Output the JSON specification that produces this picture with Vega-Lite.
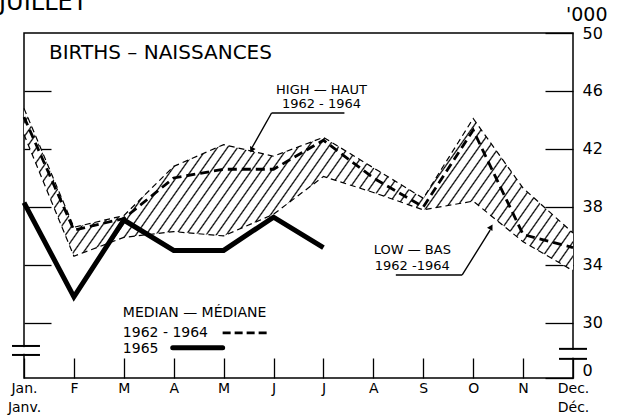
{
  "$schema": "https://vega.github.io/schema/vega-lite/v6.json",
  "width": 549,
  "height": 345,
  "autosize": {"type": "none"},
  "padding": {"left": 24, "top": 33, "right": 58, "bottom": 42},
  "background": "white",
  "config": {
    "view": {"stroke": "#000", "strokeWidth": 1.5},
    "font": "DejaVu Sans"
  },
  "datasets": {
    "band": [
      {"m": 0, "high": 44.8, "median": 44.2, "low": 43.0},
      {"m": 1, "high": 36.6, "median": 36.4, "low": 34.6},
      {"m": 2, "high": 37.4, "median": 37.2, "low": 35.9},
      {"m": 3, "high": 40.8, "median": 40.0, "low": 36.3},
      {"m": 4, "high": 42.3, "median": 40.6, "low": 36.0},
      {"m": 5, "high": 41.5, "median": 40.6, "low": 37.5},
      {"m": 6, "high": 42.8, "median": 42.6, "low": 40.1},
      {"m": 7, "high": 40.7, "median": 40.0, "low": 39.0},
      {"m": 8, "high": 38.6, "median": 38.0, "low": 37.8},
      {"m": 9, "high": 44.1, "median": 43.3, "low": 38.4},
      {"m": 10, "high": 39.3, "median": 36.1, "low": 35.6},
      {"m": 11, "high": 36.2, "median": 35.2, "low": 33.6}
    ],
    "y1965": [
      {"m": 0, "v": 38.3},
      {"m": 1, "v": 31.8},
      {"m": 2, "v": 37.1},
      {"m": 3, "v": 35.0},
      {"m": 4, "v": 35.0},
      {"m": 5, "v": 37.3},
      {"m": 6, "v": 35.2}
    ],
    "thinRules": [
      {"m": 4.96, "m2": 6.42, "v": 44.48, "v2": 44.48},
      {"m": 4.96, "m2": 4.57, "v": 44.48, "v2": 42.1},
      {"m": 7.45, "m2": 8.78, "v": 33.31, "v2": 33.31},
      {"m": 8.78, "m2": 9.34, "v": 33.31, "v2": 36.4}
    ],
    "breakRules": [
      {"m": -0.24, "m2": 0.32, "v": 28.41, "v2": 28.41},
      {"m": -0.24, "m2": 0.32, "v": 27.79, "v2": 27.79},
      {"m": 10.72, "m2": 11.28, "v": 28.21, "v2": 28.21},
      {"m": 10.72, "m2": 11.28, "v": 27.52, "v2": 27.52}
    ],
    "breakGaps": [
      {"m": 0, "m2": 0, "v": 28.33, "v2": 27.87},
      {"m": 11, "m2": 11, "v": 28.13, "v2": 27.6}
    ],
    "sampleDash": [{"m": 3.98, "m2": 4.92, "v": 29.31, "v2": 29.31}],
    "sampleSolid": [{"m": 2.98, "m2": 3.98, "v": 28.28, "v2": 28.28}],
    "textLeft": [
      {"m": 1.98, "v": 30.69, "t": "MEDIAN — MÉDIANE"},
      {"m": 1.98, "v": 29.31, "t": "1962 - 1964"},
      {"m": 1.98, "v": 28.21, "t": "1965"}
    ],
    "textCenter": [
      {"m": 5.96, "v": 46.1, "t": "HIGH — HAUT"},
      {"m": 5.96, "v": 45.1, "t": "1962 - 1964"},
      {"m": 7.78, "v": 35.03, "t": "LOW — BAS"},
      {"m": 7.78, "v": 33.93, "t": "1962 -1964"}
    ],
    "title": [{"m": 0.5, "v": 48.62, "t": "BIRTHS – NAISSANCES"}],
    "unit": [{"m": 10.86, "v": 51.24, "t": "'000"}],
    "cropped": [{"m": -0.5, "v": 51.59, "t": "JUILLET"}],
    "arrowHigh": [{"m": 4.56, "v": 41.93}],
    "arrowLow": [{"m": 9.36, "v": 36.62}]
  },
  "encoding": {
    "x": {
      "field": "m",
      "type": "quantitative",
      "title": null,
      "scale": {"domain": [0, 11], "nice": false, "zero": false},
      "axis": {
        "orient": "bottom",
        "values": [0, 1, 2, 3, 4, 5, 6, 7, 8, 9, 10, 11],
        "domain": false,
        "grid": false,
        "tickSize": -20,
        "tickColor": "#000",
        "tickWidth": 1.3,
        "labelPadding": 23,
        "labelFont": "DejaVu Sans",
        "labelFontSize": 14,
        "labelColor": "#000",
        "labelBaseline": "top",
        "labelLineHeight": 19,
        "labelOverlap": false,
        "labelFlush": false,
        "labelExpr": "datum.value == 0 ? ['Jan.', 'Janv.'] : datum.value == 11 ? ['Dec.', 'Déc.'] : ['Jan.','F','M','A','M','J','J','A','S','O','N','Dec.'][datum.value]"
      }
    }
  },
  "resolve": {"axis": {"y": "independent"}},
  "layer": [
    {
      "data": {"name": "band"},
      "mark": {
        "type": "area",
        "strokeWidth": 0,
        "fill": {
          "gradient": "linear",
          "x1": 0, "y1": 0, "x2": 1.754, "y2": 0.365,
          "stops": [
            {"offset": 0, "color": "#000"}, {"offset": 0.0015, "color": "#fff"}, {"offset": 0.0085, "color": "#fff"},
            {"offset": 0.01, "color": "#000"}, {"offset": 0.0115, "color": "#fff"}, {"offset": 0.0185, "color": "#fff"},
            {"offset": 0.02, "color": "#000"}, {"offset": 0.0215, "color": "#fff"}, {"offset": 0.0285, "color": "#fff"},
            {"offset": 0.03, "color": "#000"}, {"offset": 0.0315, "color": "#fff"}, {"offset": 0.0385, "color": "#fff"},
            {"offset": 0.04, "color": "#000"}, {"offset": 0.0415, "color": "#fff"}, {"offset": 0.0485, "color": "#fff"},
            {"offset": 0.05, "color": "#000"}, {"offset": 0.0515, "color": "#fff"}, {"offset": 0.0585, "color": "#fff"},
            {"offset": 0.06, "color": "#000"}, {"offset": 0.0615, "color": "#fff"}, {"offset": 0.0685, "color": "#fff"},
            {"offset": 0.07, "color": "#000"}, {"offset": 0.0715, "color": "#fff"}, {"offset": 0.0785, "color": "#fff"},
            {"offset": 0.08, "color": "#000"}, {"offset": 0.0815, "color": "#fff"}, {"offset": 0.0885, "color": "#fff"},
            {"offset": 0.09, "color": "#000"}, {"offset": 0.0915, "color": "#fff"}, {"offset": 0.0985, "color": "#fff"},
            {"offset": 0.10, "color": "#000"}, {"offset": 0.1015, "color": "#fff"}, {"offset": 0.1085, "color": "#fff"},
            {"offset": 0.11, "color": "#000"}, {"offset": 0.1115, "color": "#fff"}, {"offset": 0.1185, "color": "#fff"},
            {"offset": 0.12, "color": "#000"}, {"offset": 0.1215, "color": "#fff"}, {"offset": 0.1285, "color": "#fff"},
            {"offset": 0.13, "color": "#000"}, {"offset": 0.1315, "color": "#fff"}, {"offset": 0.1385, "color": "#fff"},
            {"offset": 0.14, "color": "#000"}, {"offset": 0.1415, "color": "#fff"}, {"offset": 0.1485, "color": "#fff"},
            {"offset": 0.15, "color": "#000"}, {"offset": 0.1515, "color": "#fff"}, {"offset": 0.1585, "color": "#fff"},
            {"offset": 0.16, "color": "#000"}, {"offset": 0.1615, "color": "#fff"}, {"offset": 0.1685, "color": "#fff"},
            {"offset": 0.17, "color": "#000"}, {"offset": 0.1715, "color": "#fff"}, {"offset": 0.1785, "color": "#fff"},
            {"offset": 0.18, "color": "#000"}, {"offset": 0.1815, "color": "#fff"}, {"offset": 0.1885, "color": "#fff"},
            {"offset": 0.19, "color": "#000"}, {"offset": 0.1915, "color": "#fff"}, {"offset": 0.1985, "color": "#fff"},
            {"offset": 0.20, "color": "#000"}, {"offset": 0.2015, "color": "#fff"}, {"offset": 0.2085, "color": "#fff"},
            {"offset": 0.21, "color": "#000"}, {"offset": 0.2115, "color": "#fff"}, {"offset": 0.2185, "color": "#fff"},
            {"offset": 0.22, "color": "#000"}, {"offset": 0.2215, "color": "#fff"}, {"offset": 0.2285, "color": "#fff"},
            {"offset": 0.23, "color": "#000"}, {"offset": 0.2315, "color": "#fff"}, {"offset": 0.2385, "color": "#fff"},
            {"offset": 0.24, "color": "#000"}, {"offset": 0.2415, "color": "#fff"}, {"offset": 0.2485, "color": "#fff"},
            {"offset": 0.25, "color": "#000"}, {"offset": 0.2515, "color": "#fff"}, {"offset": 0.2585, "color": "#fff"},
            {"offset": 0.26, "color": "#000"}, {"offset": 0.2615, "color": "#fff"}, {"offset": 0.2685, "color": "#fff"},
            {"offset": 0.27, "color": "#000"}, {"offset": 0.2715, "color": "#fff"}, {"offset": 0.2785, "color": "#fff"},
            {"offset": 0.28, "color": "#000"}, {"offset": 0.2815, "color": "#fff"}, {"offset": 0.2885, "color": "#fff"},
            {"offset": 0.29, "color": "#000"}, {"offset": 0.2915, "color": "#fff"}, {"offset": 0.2985, "color": "#fff"},
            {"offset": 0.30, "color": "#000"}, {"offset": 0.3015, "color": "#fff"}, {"offset": 0.3085, "color": "#fff"},
            {"offset": 0.31, "color": "#000"}, {"offset": 0.3115, "color": "#fff"}, {"offset": 0.3185, "color": "#fff"},
            {"offset": 0.32, "color": "#000"}, {"offset": 0.3215, "color": "#fff"}, {"offset": 0.3285, "color": "#fff"},
            {"offset": 0.33, "color": "#000"}, {"offset": 0.3315, "color": "#fff"}, {"offset": 0.3385, "color": "#fff"},
            {"offset": 0.34, "color": "#000"}, {"offset": 0.3415, "color": "#fff"}, {"offset": 0.3485, "color": "#fff"},
            {"offset": 0.35, "color": "#000"}, {"offset": 0.3515, "color": "#fff"}, {"offset": 0.3585, "color": "#fff"},
            {"offset": 0.36, "color": "#000"}, {"offset": 0.3615, "color": "#fff"}, {"offset": 0.3685, "color": "#fff"},
            {"offset": 0.37, "color": "#000"}, {"offset": 0.3715, "color": "#fff"}, {"offset": 0.3785, "color": "#fff"},
            {"offset": 0.38, "color": "#000"}, {"offset": 0.3815, "color": "#fff"}, {"offset": 0.3885, "color": "#fff"},
            {"offset": 0.39, "color": "#000"}, {"offset": 0.3915, "color": "#fff"}, {"offset": 0.3985, "color": "#fff"},
            {"offset": 0.40, "color": "#000"}, {"offset": 0.4015, "color": "#fff"}, {"offset": 0.4085, "color": "#fff"},
            {"offset": 0.41, "color": "#000"}, {"offset": 0.4115, "color": "#fff"}, {"offset": 0.4185, "color": "#fff"},
            {"offset": 0.42, "color": "#000"}, {"offset": 0.4215, "color": "#fff"}, {"offset": 0.4285, "color": "#fff"},
            {"offset": 0.43, "color": "#000"}, {"offset": 0.4315, "color": "#fff"}, {"offset": 0.4385, "color": "#fff"},
            {"offset": 0.44, "color": "#000"}, {"offset": 0.4415, "color": "#fff"}, {"offset": 0.4485, "color": "#fff"},
            {"offset": 0.45, "color": "#000"}, {"offset": 0.4515, "color": "#fff"}, {"offset": 0.4585, "color": "#fff"},
            {"offset": 0.46, "color": "#000"}, {"offset": 0.4615, "color": "#fff"}, {"offset": 0.4685, "color": "#fff"},
            {"offset": 0.47, "color": "#000"}, {"offset": 0.4715, "color": "#fff"}, {"offset": 0.4785, "color": "#fff"},
            {"offset": 0.48, "color": "#000"}, {"offset": 0.4815, "color": "#fff"}, {"offset": 0.4885, "color": "#fff"},
            {"offset": 0.49, "color": "#000"}, {"offset": 0.4915, "color": "#fff"}, {"offset": 0.4985, "color": "#fff"},
            {"offset": 0.50, "color": "#000"}, {"offset": 0.5015, "color": "#fff"}, {"offset": 0.5085, "color": "#fff"},
            {"offset": 0.51, "color": "#000"}, {"offset": 0.5115, "color": "#fff"}, {"offset": 0.5185, "color": "#fff"},
            {"offset": 0.52, "color": "#000"}, {"offset": 0.5215, "color": "#fff"}, {"offset": 0.5285, "color": "#fff"},
            {"offset": 0.53, "color": "#000"}, {"offset": 0.5315, "color": "#fff"}, {"offset": 0.5385, "color": "#fff"},
            {"offset": 0.54, "color": "#000"}, {"offset": 0.5415, "color": "#fff"}, {"offset": 0.5485, "color": "#fff"},
            {"offset": 0.55, "color": "#000"}, {"offset": 0.5515, "color": "#fff"}, {"offset": 0.5585, "color": "#fff"},
            {"offset": 0.56, "color": "#000"}, {"offset": 0.5615, "color": "#fff"}, {"offset": 0.5685, "color": "#fff"},
            {"offset": 0.57, "color": "#000"}, {"offset": 0.5715, "color": "#fff"}, {"offset": 0.5785, "color": "#fff"},
            {"offset": 0.58, "color": "#000"}, {"offset": 0.5815, "color": "#fff"}, {"offset": 0.5885, "color": "#fff"},
            {"offset": 0.59, "color": "#000"}, {"offset": 0.5915, "color": "#fff"}, {"offset": 0.5985, "color": "#fff"},
            {"offset": 0.60, "color": "#000"}, {"offset": 0.6015, "color": "#fff"}, {"offset": 0.6085, "color": "#fff"},
            {"offset": 0.61, "color": "#000"}, {"offset": 0.6115, "color": "#fff"}, {"offset": 0.6185, "color": "#fff"},
            {"offset": 0.62, "color": "#000"}, {"offset": 0.6215, "color": "#fff"}, {"offset": 0.6285, "color": "#fff"},
            {"offset": 0.63, "color": "#000"}, {"offset": 0.6315, "color": "#fff"}, {"offset": 0.6385, "color": "#fff"},
            {"offset": 0.64, "color": "#000"}, {"offset": 0.6415, "color": "#fff"}, {"offset": 0.6485, "color": "#fff"},
            {"offset": 0.65, "color": "#000"}, {"offset": 0.6515, "color": "#fff"}, {"offset": 0.6585, "color": "#fff"},
            {"offset": 0.66, "color": "#000"}, {"offset": 0.6615, "color": "#fff"}, {"offset": 0.6685, "color": "#fff"},
            {"offset": 0.67, "color": "#000"}, {"offset": 0.6715, "color": "#fff"}, {"offset": 1, "color": "#fff"}
          ]
        }
      },
      "encoding": {
        "y": {
          "field": "low", "type": "quantitative", "title": null,
          "scale": {"domain": [26.2, 50], "nice": false, "zero": false},
          "axis": {
            "orient": "left", "values": [46, 42, 38, 34, 30], "labels": false,
            "domain": false, "grid": false, "tickSize": -27, "tickColor": "#000", "tickWidth": 1.3
          }
        },
        "y2": {"field": "high"}
      }
    },
    {
      "data": {"name": "band"},
      "mark": {"type": "line", "color": "#000", "strokeWidth": 1.2, "strokeDash": [6, 4]},
      "encoding": {
        "y": {
          "field": "high", "type": "quantitative", "title": null,
          "scale": {"domain": [26.2, 50], "nice": false, "zero": false},
          "axis": {
            "orient": "right", "values": [50, 46, 42, 38, 34, 30, 26.2],
            "domain": false, "grid": false, "tickSize": -28, "tickColor": "#000", "tickWidth": 1.3,
            "labelPadding": 37, "labelFont": "DejaVu Sans", "labelFontSize": 16, "labelColor": "#000",
            "labelExpr": "datum.value < 27 ? '0' : datum.label",
            "labelBaseline": {"condition": {"test": "datum.value < 27", "value": "bottom"}, "value": "middle"}
          }
        }
      }
    },
    {
      "data": {"name": "band"},
      "mark": {"type": "line", "color": "#000", "strokeWidth": 1.2, "strokeDash": [6, 4]},
      "encoding": {
        "y": {"field": "low", "type": "quantitative", "axis": null,
              "scale": {"domain": [26.2, 50], "nice": false, "zero": false}}
      }
    },
    {
      "data": {"name": "band"},
      "mark": {"type": "line", "color": "#000", "strokeWidth": 2.8, "strokeDash": [9, 5]},
      "encoding": {
        "y": {"field": "median", "type": "quantitative", "axis": null,
              "scale": {"domain": [26.2, 50], "nice": false, "zero": false}}
      }
    },
    {
      "data": {"name": "y1965"},
      "mark": {"type": "line", "color": "#000", "strokeWidth": 5, "strokeJoin": "miter"},
      "encoding": {
        "y": {"field": "v", "type": "quantitative", "axis": null,
              "scale": {"domain": [26.2, 50], "nice": false, "zero": false}}
      }
    },
    {
      "data": {"name": "thinRules"},
      "mark": {"type": "rule", "color": "#000", "strokeWidth": 1.4},
      "encoding": {
        "x2": {"field": "m2"},
        "y": {"field": "v", "type": "quantitative", "axis": null,
              "scale": {"domain": [26.2, 50], "nice": false, "zero": false}},
        "y2": {"field": "v2"}
      }
    },
    {
      "data": {"name": "breakGaps"},
      "mark": {"type": "rule", "color": "#fff", "strokeWidth": 4, "clip": false},
      "encoding": {
        "x2": {"field": "m2"},
        "y": {"field": "v", "type": "quantitative", "axis": null,
              "scale": {"domain": [26.2, 50], "nice": false, "zero": false}},
        "y2": {"field": "v2"}
      }
    },
    {
      "data": {"name": "breakRules"},
      "mark": {"type": "rule", "color": "#000", "strokeWidth": 2, "clip": false},
      "encoding": {
        "x2": {"field": "m2"},
        "y": {"field": "v", "type": "quantitative", "axis": null,
              "scale": {"domain": [26.2, 50], "nice": false, "zero": false}},
        "y2": {"field": "v2"}
      }
    },
    {
      "data": {"name": "sampleDash"},
      "mark": {"type": "rule", "color": "#000", "strokeWidth": 2.8, "strokeDash": [8, 4]},
      "encoding": {
        "x2": {"field": "m2"},
        "y": {"field": "v", "type": "quantitative", "axis": null,
              "scale": {"domain": [26.2, 50], "nice": false, "zero": false}},
        "y2": {"field": "v2"}
      }
    },
    {
      "data": {"name": "sampleSolid"},
      "mark": {"type": "rule", "color": "#000", "strokeWidth": 5, "strokeCap": "round"},
      "encoding": {
        "x2": {"field": "m2"},
        "y": {"field": "v", "type": "quantitative", "axis": null,
              "scale": {"domain": [26.2, 50], "nice": false, "zero": false}},
        "y2": {"field": "v2"}
      }
    },
    {
      "data": {"name": "arrowHigh"},
      "mark": {"type": "point", "shape": "triangle-down", "filled": true, "color": "#000", "size": 40, "angle": 27, "opacity": 1},
      "encoding": {
        "y": {"field": "v", "type": "quantitative", "axis": null,
              "scale": {"domain": [26.2, 50], "nice": false, "zero": false}}
      }
    },
    {
      "data": {"name": "arrowLow"},
      "mark": {"type": "point", "shape": "triangle-up", "filled": true, "color": "#000", "size": 40, "angle": 31, "opacity": 1},
      "encoding": {
        "y": {"field": "v", "type": "quantitative", "axis": null,
              "scale": {"domain": [26.2, 50], "nice": false, "zero": false}}
      }
    },
    {
      "data": {"name": "textLeft"},
      "mark": {"type": "text", "align": "left", "baseline": "middle", "font": "DejaVu Sans", "fontSize": 14, "color": "#000"},
      "encoding": {
        "y": {"field": "v", "type": "quantitative", "axis": null,
              "scale": {"domain": [26.2, 50], "nice": false, "zero": false}},
        "text": {"field": "t"}
      }
    },
    {
      "data": {"name": "textCenter"},
      "mark": {"type": "text", "align": "center", "baseline": "middle", "font": "DejaVu Sans", "fontSize": 13, "color": "#000"},
      "encoding": {
        "y": {"field": "v", "type": "quantitative", "axis": null,
              "scale": {"domain": [26.2, 50], "nice": false, "zero": false}},
        "text": {"field": "t"}
      }
    },
    {
      "data": {"name": "title"},
      "mark": {"type": "text", "align": "left", "baseline": "middle", "font": "DejaVu Sans", "fontSize": 20, "color": "#000"},
      "encoding": {
        "y": {"field": "v", "type": "quantitative", "axis": null,
              "scale": {"domain": [26.2, 50], "nice": false, "zero": false}},
        "text": {"field": "t"}
      }
    },
    {
      "data": {"name": "unit"},
      "mark": {"type": "text", "align": "left", "baseline": "middle", "font": "DejaVu Sans", "fontSize": 19, "color": "#000"},
      "encoding": {
        "y": {"field": "v", "type": "quantitative", "axis": null,
              "scale": {"domain": [26.2, 50], "nice": false, "zero": false}},
        "text": {"field": "t"}
      }
    },
    {
      "data": {"name": "cropped"},
      "mark": {"type": "text", "align": "left", "baseline": "alphabetic", "font": "DejaVu Sans", "fontSize": 24, "color": "#000"},
      "encoding": {
        "y": {"field": "v", "type": "quantitative", "axis": null,
              "scale": {"domain": [26.2, 50], "nice": false, "zero": false}},
        "text": {"field": "t"}
      }
    }
  ]
}
